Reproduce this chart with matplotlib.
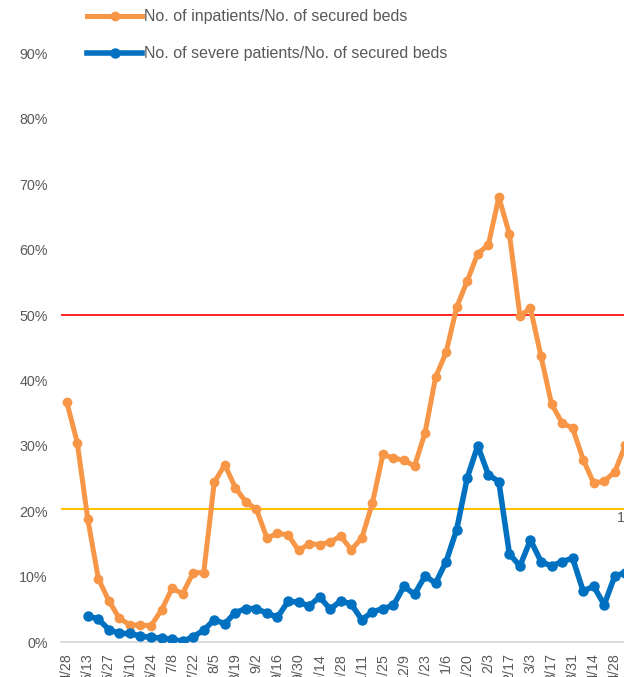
import matplotlib
matplotlib.use("Agg")
import matplotlib.pyplot as plt
import numpy as np

plt.rcParams['font.family'] = ['Liberation Sans', 'DejaVu Sans']

dates = ["4/28", "5/6", "5/13", "5/20", "5/27", "6/3", "6/10", "6/17", "6/24", "7/1",
         "7/8", "7/15", "7/22", "7/29", "8/5", "8/12", "8/19", "8/26", "9/2", "9/9",
         "9/16", "9/23", "9/30", "10/7", "10/14", "10/21", "10/28", "11/4", "11/11", "11/18",
         "11/25", "12/2", "12/9", "12/16", "12/23", "12/30", "1/6", "1/13", "1/20", "1/27",
         "2/3", "2/10", "2/17", "2/24", "3/3", "3/10", "3/17", "3/24", "3/31", "4/7",
         "4/14", "4/21", "4/28", "5/5"]

inpatients = [0.367, 0.305, 0.188, 0.097, 0.063, 0.036, 0.026, 0.026, 0.025, 0.049,
              0.082, 0.074, 0.106, 0.106, 0.244, 0.271, 0.236, 0.214, 0.203, 0.159,
              0.166, 0.164, 0.140, 0.150, 0.149, 0.153, 0.162, 0.141, 0.159, 0.212,
              0.287, 0.281, 0.278, 0.269, 0.320, 0.405, 0.443, 0.512, 0.552, 0.594,
              0.607, 0.680, 0.624, 0.499, 0.510, 0.437, 0.364, 0.335, 0.327, 0.279,
              0.243, 0.246, 0.260, 0.301]

severe = [np.nan, np.nan, 0.040, 0.035, 0.019, 0.013, 0.013, 0.009, 0.007, 0.006,
          0.004, 0.001, 0.008, 0.018, 0.034, 0.028, 0.045, 0.051, 0.051, 0.044,
          0.038, 0.062, 0.061, 0.055, 0.069, 0.050, 0.063, 0.058, 0.034, 0.046,
          0.051, 0.056, 0.085, 0.073, 0.101, 0.090, 0.123, 0.172, 0.251, 0.300,
          0.256, 0.245, 0.135, 0.116, 0.156, 0.123, 0.116, 0.123, 0.128, 0.078,
          0.085, 0.057, 0.101, 0.106]

red_level = 0.50
yellow_level = 0.203
yticks = [0.0, 0.1, 0.2, 0.3, 0.4, 0.5, 0.6, 0.7, 0.8, 0.9, 1.0]

W, H = 624, 677
fig = plt.figure(figsize=(W / 100, H / 100), dpi=100)
step = 10.54
x0 = 66.7
nslots = 60
left_px = x0 - 0.5 * step
ax = fig.add_axes([left_px / W, 35 / H, nslots * step / W, 654 / H])

x = np.arange(len(dates))
orange = '#F79646'
blue = '#0070C0'
gray = '#595959'

ax.plot(x, inpatients, color=orange, lw=3.6, marker='o', ms=6, zorder=4,
        solid_joinstyle='round', label='No. of inpatients/No. of secured beds')
ax.plot(x, severe, color=blue, lw=4.0, marker='o', ms=6.5, zorder=4,
        solid_joinstyle='round', label='No. of severe patients/No. of secured beds')

ax.axhline(red_level, color='#FF0000', lw=1.2, zorder=3)
ax.axhline(yellow_level, color='#FFC000', lw=1.5, zorder=3)

ax.set_xlim(-0.5, nslots - 0.5)
ax.set_ylim(0, 1.0)
ax.set_yticks(yticks)
ax.set_yticklabels([f"{int(round(v * 100))}%" for v in yticks])
ax.set_xticks(x[::2])
ax.set_xticklabels(dates[::2], rotation=90)
ax.tick_params(axis='both', length=0, colors=gray, labelsize=10.3)
ax.tick_params(axis='y', pad=10)
ax.tick_params(axis='x', pad=8)

for s in ['top', 'right', 'left']:
    ax.spines[s].set_visible(False)
ax.spines['bottom'].set_color('#D9D9D9')
ax.spines['bottom'].set_linewidth(1.3)

fig.text(617 / W, 1 - 518 / H, "1", color=gray, fontsize=10.3, va='center', ha='left')

leg = fig.legend(loc='upper left', bbox_to_anchor=(81 / W, 1 - 3 / H), frameon=False,
                 handlelength=3.45, handletextpad=0.1, labelspacing=1.38,
                 fontsize=11.5, borderaxespad=0)
for t in leg.get_texts():
    t.set_color(gray)

fig.savefig("out.png", dpi=100)
